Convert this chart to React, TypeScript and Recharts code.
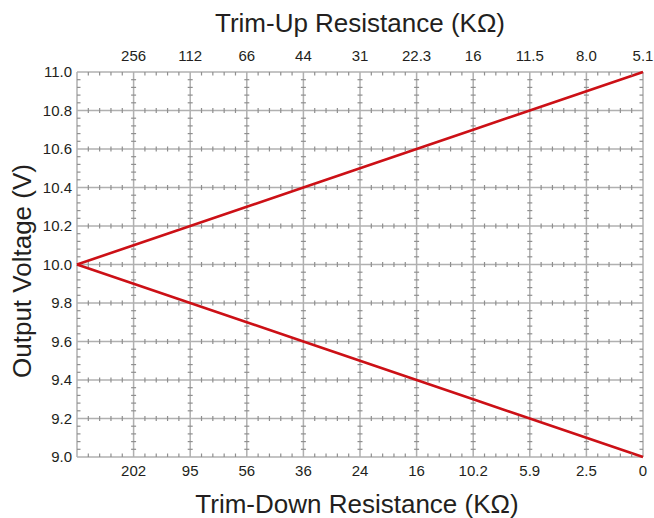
import React from "react";
import { ComposedChart, Line, Scatter, XAxis, YAxis, CartesianGrid } from "recharts";

// Grid positions (columns) shared by both resistance scales
const gridX = [0, 1, 2, 3, 4, 5, 6, 7, 8, 9, 10];
// Top axis: Trim-Up resistance labels (KΩ)
const trimUpLabels = ["", "256", "112", "66", "44", "31", "22.3", "16", "11.5", "8.0", "5.1"];
// Bottom axis: Trim-Down resistance labels (KΩ)
const trimDownLabels = ["", "202", "95", "56", "36", "24", "16", "10.2", "5.9", "2.5", "0"];
// Output voltage with trim-up resistor
const upVoltage = [10.0, 10.1, 10.2, 10.3, 10.4, 10.5, 10.6, 10.7, 10.8, 10.9, 11.0];
// Output voltage with trim-down resistor
const downVoltage = [10.0, 9.9, 9.8, 9.7, 9.6, 9.5, 9.4, 9.3, 9.2, 9.1, 9.0];
// Y axis ticks
const yTicks = [9.0, 9.2, 9.4, 9.6, 9.8, 10.0, 10.2, 10.4, 10.6, 10.8, 11.0];

const rows = gridX.map((x, i) => ({ x, up: upVoltage[i], down: downVoltage[i] }));

// Minor tick decoration (5 subdivisions per grid cell)
const minorOnHorizontal: { x: number; y: number; k: string }[] = [];
const minorOnVertical: { x: number; y: number; k: string }[] = [];
for (let yi = 0; yi < yTicks.length; yi++) {
  for (let i = 0; i <= 50; i++) {
    if (i % 5 === 0) continue;
    minorOnHorizontal.push({ x: i / 5, y: yTicks[yi], k: yi === 0 ? "b" : yi === yTicks.length - 1 ? "t" : "m" });
  }
}
for (let xi = 0; xi < gridX.length; xi++) {
  for (let j = 0; j <= 50; j++) {
    if (j % 5 === 0) continue;
    minorOnVertical.push({ x: gridX[xi], y: 9 + j * 0.04, k: xi === 0 ? "l" : xi === gridX.length - 1 ? "r" : "m" });
  }
}

const TICK = "#8f8f8f";
const HTick = (p: any) => {
  const { cx, cy, payload } = p;
  const k = payload?.k;
  const y1 = k === "t" ? cy : cy - 2.5;
  const y2 = k === "b" ? cy : cy + 2.5;
  const a = k === "t" ? cy : k === "b" ? cy - 3.5 : y1;
  const b = k === "t" ? cy + 3.5 : k === "b" ? cy : y2;
  return <line x1={cx} x2={cx} y1={a} y2={b} stroke={TICK} strokeWidth={1.2} />;
};
const VTick = (p: any) => {
  const { cx, cy, payload } = p;
  const k = payload?.k;
  const a = k === "l" ? cx : k === "r" ? cx - 3.5 : cx - 2.5;
  const b = k === "l" ? cx + 3.5 : k === "r" ? cx : cx + 2.5;
  return <line x1={a} x2={b} y1={cy} y2={cy} stroke={TICK} strokeWidth={1.2} />;
};

const FONT = "'Liberation Sans', Arial, Helvetica, sans-serif";
const TXT = "#231f20";

export default function App() {
  return (
    <div style={{ position: "absolute", left: 0, top: 0, width: 654, height: 518, background: "#fff" }}>
      <ComposedChart
        width={654}
        height={518}
        data={rows}
        margin={{ top: 40, right: 11, bottom: 0, left: 0 }}
        style={{ fontFamily: FONT }}
      >
        <CartesianGrid xAxisId="bottom" stroke="#b0b0b0" strokeWidth={1.5} />
        <XAxis
          xAxisId="bottom"
          dataKey="x"
          type="number"
          domain={[0, 10]}
          ticks={gridX}
          tickFormatter={(v: number) => trimDownLabels[v] ?? ""}
          tickLine={false}
          axisLine={false}
          height={61}
          tick={{ fill: TXT, fontSize: 15, fontFamily: FONT }}
          interval={0}
        />
        <XAxis
          xAxisId="top"
          orientation="top"
          dataKey="x"
          type="number"
          domain={[0, 10]}
          ticks={gridX}
          tickFormatter={(v: number) => trimUpLabels[v] ?? ""}
          tickLine={false}
          axisLine={false}
          tickSize={6}
          tickMargin={5}
          height={32}
          tick={{ fill: TXT, fontSize: 15, fontFamily: FONT }}
          interval={0}
        />
        <YAxis
          type="number"
          domain={[9, 11]}
          ticks={yTicks}
          tickFormatter={(v: number) => v.toFixed(1)}
          tickLine={false}
          axisLine={false}
          tickSize={3}
          tickMargin={2}
          width={77}
          tick={{ fill: TXT, fontSize: 15, fontFamily: FONT }}
          interval={0}
        />
        <Scatter
          xAxisId="bottom"
          data={minorOnHorizontal}
          dataKey="y"
          shape={HTick}
          isAnimationActive={false}
        />
        <Scatter
          xAxisId="bottom"
          data={minorOnVertical}
          dataKey="y"
          shape={VTick}
          isAnimationActive={false}
        />
        <Line
          xAxisId="bottom"
          dataKey="up"
          stroke="#cc1016"
          strokeWidth={2.6}
          dot={false}
          isAnimationActive={false}
        />
        <Line
          xAxisId="bottom"
          dataKey="down"
          stroke="#cc1016"
          strokeWidth={2.6}
          dot={false}
          isAnimationActive={false}
        />
        <text x={360} y={32} textAnchor="middle" fontSize={26} fill={TXT} fontFamily={FONT}>
          Trim-Up Resistance (KΩ)
        </text>
        <text x={357} y={513} textAnchor="middle" fontSize={26} fill={TXT} fontFamily={FONT}>
          Trim-Down Resistance (KΩ)
        </text>
        <text
          x={30.5}
          y={271}
          textAnchor="middle"
          fontSize={26}
          fill={TXT}
          fontFamily={FONT}
          transform="rotate(-90, 30.5, 271)"
        >
          Output Voltage (V)
        </text>
      </ComposedChart>
    </div>
  );
}
